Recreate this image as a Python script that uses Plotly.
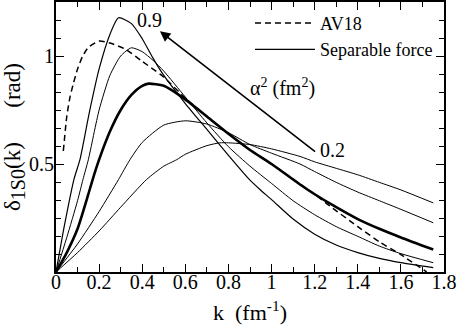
import plotly.graph_objects as go

# ---- data ----
# AV18 phase shift (dashed)
k_av18 = [0.034, 0.05, 0.065, 0.08, 0.1, 0.124, 0.15, 0.2, 0.25, 0.325, 0.4, 0.495, 0.6, 0.7, 0.8, 0.9, 1.0, 1.1, 1.2, 1.271, 1.4, 1.5, 1.6, 1.72]
d_av18 = [0.56, 0.72, 0.81, 0.87, 0.94, 1.0, 1.04, 1.069, 1.06, 1.03, 0.975, 0.906, 0.805, 0.72, 0.64, 0.565, 0.5, 0.43, 0.36, 0.305, 0.21, 0.14, 0.08, 0.0]

# Separable force, alpha^2 = 0.9 (tallest)
k_a = [0, 0.04, 0.083, 0.111, 0.155, 0.2, 0.25, 0.29, 0.35, 0.4, 0.45, 0.5, 0.6, 0.7, 0.8, 0.9, 0.946, 1.0, 1.1, 1.2, 1.3, 1.4, 1.5, 1.6, 1.75]
d_a = [0, 0.22, 0.428, 0.52, 0.74, 0.94, 1.1, 1.177, 1.15, 1.08, 0.99, 0.91, 0.78, 0.66, 0.54, 0.425, 0.382, 0.335, 0.245, 0.175, 0.125, 0.09, 0.063, 0.043, 0.02]

# second curve
k_b = [0, 0.05, 0.1, 0.125, 0.15, 0.2, 0.25, 0.3, 0.35, 0.4, 0.45, 0.5, 0.6, 0.7, 0.8, 0.9, 1.0, 1.1, 1.2, 1.3, 1.4, 1.5, 1.6, 1.75]
d_b = [0, 0.16, 0.33, 0.428, 0.52, 0.75, 0.91, 1.0, 1.038, 1.02, 0.98, 0.93, 0.81, 0.69, 0.58, 0.49, 0.41, 0.33, 0.265, 0.21, 0.165, 0.12, 0.085, 0.043]

# thick curve
k_c = [0, 0.05, 0.1, 0.15, 0.17, 0.2, 0.25, 0.3, 0.35, 0.4, 0.43, 0.5, 0.59, 0.7, 0.8, 0.9, 1.0, 1.132, 1.2, 1.3, 1.4, 1.5, 1.6, 1.75]
d_c = [0, 0.09, 0.2, 0.36, 0.428, 0.52, 0.65, 0.75, 0.82, 0.862, 0.872, 0.862, 0.806, 0.72, 0.64, 0.565, 0.5, 0.405, 0.36, 0.3, 0.245, 0.2, 0.16, 0.104]

# fourth curve
k_d = [0, 0.1, 0.2, 0.29, 0.343, 0.4, 0.5, 0.6, 0.7, 0.8, 0.9, 1.0, 1.132, 1.2, 1.3, 1.4, 1.5, 1.6, 1.75]
d_d = [0, 0.13, 0.28, 0.428, 0.52, 0.6, 0.68, 0.70, 0.685, 0.645, 0.59, 0.55, 0.50, 0.465, 0.415, 0.37, 0.33, 0.29, 0.228]

# alpha^2 = 0.2 (lowest peak)
k_e = [0, 0.1, 0.2, 0.3, 0.42, 0.5, 0.56, 0.6, 0.7, 0.76, 0.8, 0.9, 1.0, 1.132, 1.2, 1.3, 1.4, 1.5, 1.6, 1.75]
d_e = [0, 0.09, 0.19, 0.3, 0.428, 0.49, 0.52, 0.545, 0.585, 0.598, 0.598, 0.59, 0.57, 0.535, 0.51, 0.48, 0.45, 0.415, 0.38, 0.32]

x_ticks = [0, 0.2, 0.4, 0.6, 0.8, 1.0, 1.2, 1.4, 1.6, 1.8]
x_tick_text = ["0", "0.2", "0.4", "0.6", "0.8", "1", "1.2", "1.4", "1.6", "1.8"]
y_ticks = [0.5, 1.0]
y_tick_text = ["0.5", "1"]

# arrow from alpha^2 = 0.2 label towards 0.9 label
arrow_tail = (1.209, 0.552)
arrow_head = (0.482, 1.115)

FONT = "Liberation Serif, Times New Roman, serif"

fig = go.Figure()

thin = dict(color="black", width=1, shape="spline", smoothing=0.6)
for kk, dd in [(k_e, d_e), (k_d, d_d), (k_b, d_b)]:
    fig.add_trace(go.Scatter(x=kk, y=dd, mode="lines", line=thin, showlegend=False, hoverinfo="skip"))
fig.add_trace(go.Scatter(x=k_c, y=d_c, mode="lines",
                         line=dict(color="black", width=2.6, shape="spline", smoothing=0.6),
                         showlegend=False))
fig.add_trace(go.Scatter(x=k_av18, y=d_av18, mode="lines", name="AV18",
                         line=dict(color="black", width=1.5, dash="6px,4px", shape="spline", smoothing=0.6)))
fig.add_trace(go.Scatter(x=k_a, y=d_a, mode="lines", name="Separable force",
                         line=dict(color="black", width=1.2, shape="spline", smoothing=0.6)))

fig.add_annotation(x=arrow_head[0], y=arrow_head[1], ax=arrow_tail[0], ay=arrow_tail[1],
                   xref="x", yref="y", axref="x", ayref="y", text="", showarrow=True,
                   arrowhead=2, arrowsize=1.3, arrowwidth=1.6, arrowcolor="black")
fig.add_annotation(x=0.436, y=1.169, text="0.9", showarrow=False, xref="x", yref="y",
                   font=dict(family=FONT, size=20, color="black"))
fig.add_annotation(x=1.285, y=0.567, text="0.2", showarrow=False, xref="x", yref="y",
                   font=dict(family=FONT, size=20, color="black"))
fig.add_annotation(x=1.053, y=0.856, text="α<sup>2</sup> (fm<sup>2</sup>)", showarrow=False, xref="x", yref="y",
                   font=dict(family=FONT, size=20, color="black"))

axis_common = dict(
    showline=True, linecolor="black", linewidth=1.8, mirror="allticks",
    ticks="inside", ticklen=8, tickwidth=1.3, tickcolor="black",
    showgrid=False, zeroline=False,
    tickfont=dict(family=FONT, size=20, color="black"),
)

gap = "\u00a0" * 6
fig.update_xaxes(range=[0, 1.8], tickvals=x_ticks, ticktext=x_tick_text, ticklabelstandoff=-9,
                 minor=dict(dtick=0.1, tick0=0, ticks="inside", ticklen=5, tickwidth=1.3, tickcolor="black"),
                 title=dict(text="k\u00a0\u00a0(fm<sup>-1</sup>)", font=dict(family=FONT, size=22, color="black"), standoff=13),
                 automargin=False, **axis_common)
fig.update_yaxes(range=[0, 1.25], tickvals=y_ticks, ticktext=y_tick_text, ticklabelstandoff=-4,
                 minor=dict(dtick=0.5 / 6, tick0=0, ticks="inside", ticklen=5, tickwidth=1.3, tickcolor="black"),
                 title=dict(text="δ<sub><span style='font-size:20px'>1S0</span></sub>(k)" + gap + "(rad)",
                            font=dict(family=FONT, size=23, color="black"), standoff=2),
                 automargin=False, **axis_common)

fig.update_layout(
    width=457, height=327,
    margin=dict(l=56, r=13, t=2, b=55),
    plot_bgcolor="white", paper_bgcolor="white",
    font=dict(family=FONT, size=20, color="black"),
    legend=dict(x=0.50, y=0.99, xanchor="left", yanchor="top", bgcolor="rgba(0,0,0,0)",
                font=dict(family=FONT, size=18, color="black"), itemwidth=60, tracegroupgap=0),
)

fig.write_html("out.html", config={"displayModeBar": False},
               post_script="document.body.style.margin='0';document.body.style.overflow='hidden';")
